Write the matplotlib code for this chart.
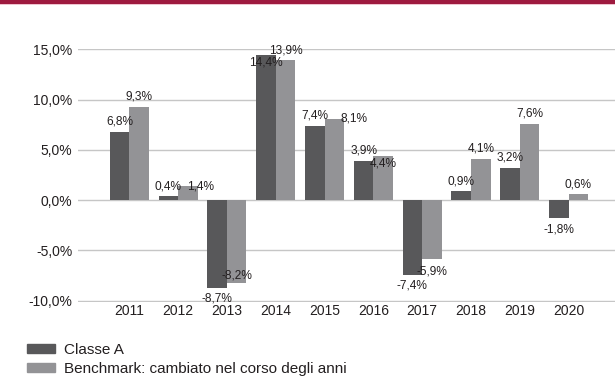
import numpy as np
import matplotlib
matplotlib.use("Agg")
import matplotlib.pyplot as plt
from matplotlib.patches import Rectangle, Patch

plt.rcParams['font.family'] = ['Liberation Sans', 'DejaVu Sans']

years = ['2011', '2012', '2013', '2014', '2015', '2016', '2017', '2018', '2019', '2020']
classe_a = [6.8, 0.4, -8.7, 14.4, 7.4, 3.9, -7.4, 0.9, 3.2, -1.8]
benchmark = [9.3, 1.4, -8.2, 13.9, 8.1, 4.4, -5.9, 4.1, 7.6, 0.6]
series_names = ['Classe A', 'Benchmark: cambiato nel corso degli anni']

dark = '#58585a'
light = '#939396'
text_col = '#231f20'

# label nudges (pixels) where the default above/below placement isn't used
label_shift = {
    (1, 1): (13, 0),
    (2, 1): (0, 7),
    (3, 0): (0, -7),
    (4, 1): (20, 0),
    (5, 1): (0, -8),
    (6, 1): (0, -12),
}


def pct(v, decimals=1):
    return f"{v:.{decimals}f}%".replace('.', ',')


fig = plt.figure(figsize=(6.15, 3.78), dpi=100)

# crimson band along the top edge
fig.add_artist(Rectangle((0, 1 - 3.5 / 378), 1, 3.5 / 378, transform=fig.transFigure,
                         color='#9e1a3f', lw=0))
fig.add_artist(Rectangle((0, 1 - 5 / 378), 1, 1.5 / 378, transform=fig.transFigure,
                         color='#efc3cf', lw=0))

ax = fig.add_axes([77.7 / 615, 1 - 301.5 / 378, 1 - 77.7 / 615, (301.5 - 49.3) / 378])

x = np.arange(len(years))
w = 0.4
ax.bar(x - w / 2, classe_a, w, color=dark, zorder=2)
ax.bar(x + w / 2, benchmark, w, color=light, zorder=2)

for s, vals in enumerate([classe_a, benchmark]):
    for i, v in enumerate(vals):
        xc = x[i] + (w / 2 if s else -w / 2)
        dx, dy = label_shift.get((i, s), (0, 10 if v >= 0 else -11))
        ax.annotate(pct(v), (xc, v), xytext=(dx, dy), textcoords='offset pixels',
                    ha='center', va='center', fontsize=8.6, color=text_col,
                    zorder=4, annotation_clip=False)

ax.set_xlim(-1.057, 9.95)
ax.set_ylim(-10.08, 15)
ax.set_yticks(np.arange(-10, 16, 5))
ax.set_yticklabels([pct(t) for t in np.arange(-10, 16, 5)])
ax.set_xticks(x)
ax.set_xticklabels(years)
ax.tick_params(length=0, labelsize=10, labelcolor=text_col)
ax.tick_params(axis='y', pad=4)
ax.tick_params(axis='x', pad=2)
ax.grid(axis='y', color='#c6c6c6', lw=1, zorder=0)
ax.set_axisbelow(True)
for sp in ax.spines.values():
    sp.set_visible(False)

handles = [Patch(color=dark), Patch(color=light)]
fig.legend(handles, series_names, loc='upper left', bbox_to_anchor=(27 / 615, 1 - 343 / 378),
           frameon=False, fontsize=11, handlelength=1.85, handleheight=0.55,
           handletextpad=0.55, labelspacing=0.32, borderpad=0, borderaxespad=0,
           labelcolor=text_col)

fig.savefig('out.png', dpi=100)
